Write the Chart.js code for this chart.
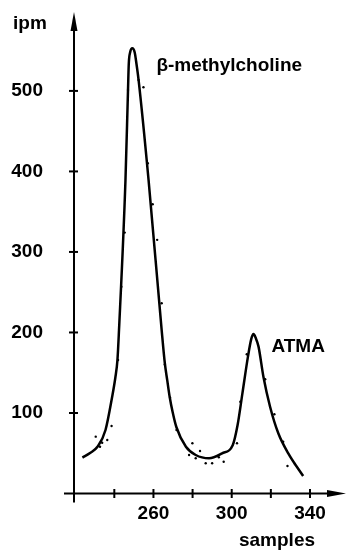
<!DOCTYPE html>
<html>
<head>
<meta charset="utf-8">
<script src="https://cdn.jsdelivr.net/npm/chart.js@4/dist/chart.umd.min.js"></script>
<style>
html,body{margin:0;padding:0;background:#fff;}
#wrap{width:350px;height:552px;position:relative;}
</style>
</head>
<body>
<div id="wrap"><canvas id="c" width="350" height="552"></canvas></div>
<script>
// fitted curve (samples, ipm)
const curveSamples = [223.7,227.6,231.5,235.5,238.9,240.5,241.6,242.4,245.7,247.0,247.4,248.1,249.2,250.4,251.3,252.4,257.5,264.2,265.8,267.1,268.3,269.8,271.7,276.6,281.6,288.4,295.1,300.5,303.0,305.5,308.3,310.0,311.1,312.3,313.7,316.2,319.6,323.8,328.9,336.5];
const curveValues  = [44.5,50.3,58.3,78.9,120.2,143.5,165.8,203,389,501,534,548,553,548,534,513.7,389.4,203,162.1,139.8,119.9,101.2,82.6,58.1,47.8,43.7,49.9,60,85,125,170,192,198,193,182.4,145,107.8,74.8,49.9,21.7];
// measured points
const dotSamples = [247.0,252.4,254.9,257.1,245.3,259.6,261.9,243.6,264.2,241.9,265.8,268.5,238.6,230.5,236.4,233.8,232.7,271.8,279.9,283.8,278.2,281.6,286.7,290.0,293.4,295.9,302.7,304.4,307.7,317.1,321.8,326.3,328.5,332.3];
const dotValues  = [501.2,513.7,504.6,410.2,324,359.3,315,256.9,236.3,165.8,160.2,119,83.9,70.6,66.5,63.1,58.1,78.9,62.4,52.8,47.8,43.7,37.5,37.5,45,39.5,62.4,114,172.9,141.9,98.4,64.3,34.2,36.6];
const xTickLabels = [260,300,340];
const xTickMarks = [240,260,280,300,320,340];
const yTickLabels = [100,200,300,400,500];
const yAxisTitle = 'ipm';
const xAxisTitle = 'samples';
const peakLabels = ['β-methylcholine','ATMA'];
const peakLabelSamples = [261.5,320.3];
const peakLabelValues = [525,175.8];

const FONT = "'Liberation Sans', Arial, sans-serif";
const curve = curveSamples.map((s,i)=>({x:s,y:curveValues[i]}));
const dots = dotSamples.map((s,i)=>({x:s,y:dotValues[i]}));

const axesPlugin = {
  id:'axesPlugin',
  afterDraw(chart){
    const ctx = chart.ctx, xs = chart.scales.x, ys = chart.scales.y;
    const L = chart.chartArea.left, R = chart.chartArea.right, T = chart.chartArea.top, B = chart.chartArea.bottom;
    ctx.save();
    ctx.strokeStyle = '#000'; ctx.fillStyle = '#000'; ctx.lineWidth = 2;
    // y axis
    ctx.beginPath(); ctx.moveTo(L, T+10); ctx.lineTo(L, B+9); ctx.stroke();
    ctx.beginPath(); ctx.moveTo(L, T); ctx.lineTo(L+3.5, T+19); ctx.lineTo(L-3.5, T+19); ctx.closePath(); ctx.fill();
    // x axis
    ctx.beginPath(); ctx.moveTo(L-10, B); ctx.lineTo(R-10, B); ctx.stroke();
    ctx.beginPath(); ctx.moveTo(R, B); ctx.lineTo(R-19, B-3.5); ctx.lineTo(R-19, B+3.5); ctx.closePath(); ctx.fill();
    // y ticks
    yTickLabels.forEach(v=>{
      const y = ys.getPixelForValue(v);
      ctx.beginPath(); ctx.moveTo(L-5, y); ctx.lineTo(L+4, y); ctx.stroke();
    });
    // x ticks
    xTickMarks.forEach(s=>{
      const x = xs.getPixelForValue(s);
      ctx.beginPath(); ctx.moveTo(x, B-4.5); ctx.lineTo(x, B+4.5); ctx.stroke();
    });
    ctx.beginPath(); ctx.moveTo(L, B-4.5); ctx.lineTo(L, B+4.5); ctx.stroke();
    // texts
    ctx.font = 'bold 19px ' + FONT;
    ctx.textBaseline = 'alphabetic';
    ctx.textAlign = 'left';
    ctx.fillText(yAxisTitle, 13, 29);
    ctx.textAlign = 'center';
    ctx.fillText(xAxisTitle, 277, 546);
    ctx.textAlign = 'left';
    peakLabels.forEach((t,i)=>{
      ctx.fillText(t, xs.getPixelForValue(peakLabelSamples[i]), ys.getPixelForValue(peakLabelValues[i]));
    });
    ctx.restore();
  }
};

new Chart(document.getElementById('c'), {
  type:'scatter',
  data:{datasets:[
    {data:curve, showLine:true, borderColor:'#000', borderWidth:2.5, pointRadius:0, cubicInterpolationMode:'monotone', fill:false},
    {data:dots, showLine:false, pointRadius:1.2, pointBackgroundColor:'#000', pointBorderWidth:0, borderColor:'#000'}
  ]},
  options:{
    responsive:false, animation:false, devicePixelRatio:1,
    layout:{padding:{top:12, right:2, left:0, bottom:0}},
    plugins:{legend:{display:false}, tooltip:{enabled:false}},
    scales:{
      x:{type:'linear', min:219.4, max:358.4,
        grid:{display:false, drawTicks:false}, border:{display:false},
        afterBuildTicks(s){ s.ticks = xTickLabels.map(v=>({value:v})); },
        afterFit(s){ s.height = 58.5; s.paddingLeft = 0; s.paddingRight = 0; },
        ticks:{color:'#000', padding:9, autoSkip:false, maxRotation:0, font:{family:FONT, size:19, weight:'bold'}, callback:v=>String(v)}
      },
      y:{type:'linear', min:0, max:598,
        grid:{display:false, drawTicks:false}, border:{display:false},
        afterBuildTicks(s){ s.ticks = yTickLabels.map(v=>({value:v})); },
        afterFit(s){ s.width = 74; s.paddingTop = 0; s.paddingBottom = 0; },
        ticks:{color:'#000', padding:31, autoSkip:false, font:{family:FONT, size:19, weight:'bold'}, callback:v=>String(v)}
      }
    }
  },
  plugins:[axesPlugin]
});
</script>
</body>
</html>
